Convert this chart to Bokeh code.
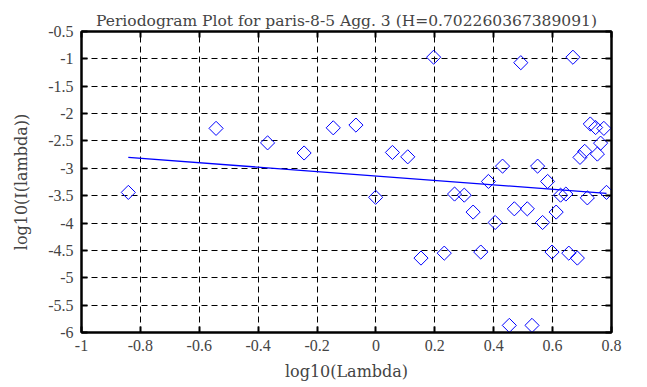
import numpy as np
from bokeh.plotting import figure
from bokeh.models import LinearAxis, FixedTicker, Range1d, CustomJSTickFormatter
from bokeh.embed import file_html
from bokeh.resources import INLINE

log_lambda = [-0.841, -0.543, -0.368, -0.244, -0.145, -0.068, -0.001, 0.056, 0.108,
              0.153, 0.196, 0.232, 0.267, 0.300, 0.330, 0.356, 0.382, 0.405, 0.430,
              0.453, 0.470, 0.492, 0.514, 0.530, 0.549, 0.566, 0.583, 0.598, 0.612,
              0.627, 0.645, 0.655, 0.669, 0.684, 0.693, 0.709, 0.718, 0.728, 0.746,
              0.752, 0.763, 0.774, 0.783]
log_I = [-3.44, -2.27, -2.535, -2.72, -2.26, -2.21, -3.53, -2.71, -2.79,
         -4.64, -0.97, -4.55, -3.47, -3.49, -3.80, -4.53, -3.24, -3.99, -2.96,
         -5.87, -3.74, -1.07, -3.74, -5.87, -2.96, -3.99, -3.24, -4.53, -3.80,
         -3.49, -3.47, -4.55, -0.97, -4.64, -2.80, -2.69, -3.54, -2.19, -2.255,
         -2.74, -2.54, -2.27, -3.44]
fit_x = [-0.841, 0.783]
fit_y = [-2.80, -3.457]
x_ticks = [-1, -0.8, -0.6, -0.4, -0.2, 0, 0.2, 0.4, 0.6, 0.8]
y_ticks = [-6, -5.5, -5, -4.5, -4, -3.5, -3, -2.5, -2, -1.5, -1, -0.5]
title_text = "Periodogram Plot for paris-8-5 Agg. 3 (H=0.702260367389091)"

TICK_FONT = "Liberation Serif"
LABEL_FONT = "DejaVu Serif"
BLUE = "#0000ff"

p = figure(width=647, height=387, output_backend="svg", toolbar_location=None,
           x_range=Range1d(-1, 0.8), y_range=Range1d(-6, -0.5),
           min_border_left=81, min_border_right=36, min_border_top=31, min_border_bottom=55,
           title=title_text)
p.title.align = "center"
p.title.text_font = LABEL_FONT
p.title.text_font_size = "15.5px"
p.title.text_font_style = "normal"
p.title.offset = 0
p.title.standoff = 4

p.outline_line_color = "black"
p.outline_line_width = 2
p.background_fill_color = "white"
p.border_fill_color = "white"

plain = CustomJSTickFormatter(code="return tick.toString();")
for ax in [p.xaxis[0], p.yaxis[0]]:
    ax.axis_line_width = 2
    ax.major_tick_in = 6
    ax.major_tick_out = 0
    ax.major_tick_line_width = 2
    ax.minor_tick_line_color = None
    ax.major_label_text_font = TICK_FONT
    ax.major_label_text_font_size = "16px"
    ax.axis_label_text_font = LABEL_FONT
    ax.axis_label_text_font_size = "16px"
    ax.axis_label_text_font_style = "normal"
    ax.formatter = plain

p.xaxis[0].ticker = FixedTicker(ticks=x_ticks)
p.yaxis[0].ticker = FixedTicker(ticks=y_ticks)
p.xaxis[0].axis_label = "log10(Lambda)"
p.yaxis[0].axis_label = "log10(I(lambda))"
p.xaxis[0].major_label_standoff = 7
p.yaxis[0].major_label_standoff = 8
p.xaxis[0].axis_label_standoff = 8
p.yaxis[0].axis_label_standoff = 14

empty = CustomJSTickFormatter(code="return '';")
top = LinearAxis(ticker=FixedTicker(ticks=x_ticks), formatter=empty,
                 major_tick_in=6, major_tick_out=0, major_tick_line_width=2,
                 major_label_standoff=0,
                 minor_tick_line_color=None, axis_line_width=2)
right = LinearAxis(ticker=FixedTicker(ticks=y_ticks), formatter=empty,
                   major_tick_in=6, major_tick_out=0, major_tick_line_width=2,
                   minor_tick_line_color=None, axis_line_width=2)
p.add_layout(top, "above")
p.add_layout(right, "right")

p.xgrid.ticker = FixedTicker(ticks=x_ticks)
p.ygrid.ticker = FixedTicker(ticks=y_ticks)
for g in [p.xgrid[0], p.ygrid[0]]:
    g.grid_line_color = "black"
    g.grid_line_dash = "6 4"
    g.grid_line_width = 1

p.line(fit_x, fit_y, line_color=BLUE, line_width=1.3)
p.scatter(log_lambda, log_I, marker="square", angle=np.pi / 4, size=10,
          fill_color=None, line_color=BLUE, line_width=1)

open("out.html", "w").write(file_html(p, INLINE))
